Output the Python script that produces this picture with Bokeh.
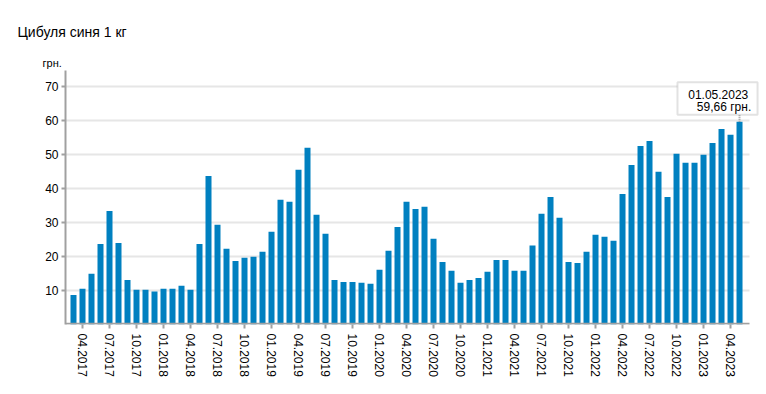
import pandas as pd
from bokeh.plotting import figure
from bokeh.models import ColumnDataSource, FixedTicker, Label, BoxAnnotation, Range1d, Title
from bokeh.embed import file_html
from bokeh.resources import INLINE

# ---- data ----
months = [p.strftime("%m.%Y") for p in pd.period_range("2017-03", "2023-05", freq="M")]
prices = [8.7, 10.5, 14.9, 23.7, 33.4, 24.0, 13.1, 10.2, 10.2, 9.7,
          10.5, 10.5, 11.4, 10.2, 23.7, 43.7, 29.3, 22.3, 18.7, 19.6,
          19.9, 21.4, 27.3, 36.7, 36.1, 45.5, 52.0, 32.3, 26.7, 13.1,
          12.5, 12.5, 12.3, 12.0, 16.1, 21.7, 28.7, 36.1, 34.0, 34.6,
          25.2, 18.4, 15.8, 12.3, 13.1, 13.7, 15.5, 19.0, 19.0, 15.8,
          15.8, 23.2, 32.6, 37.5, 31.4, 18.4, 18.1, 21.4, 26.4, 25.8,
          24.6, 38.4, 46.9, 52.5, 54.0, 44.9, 37.5, 50.2, 47.6, 47.6,
          49.9, 53.4, 57.5, 55.8, 59.66]
tick_labels = ["04.2017", "07.2017", "10.2017", "01.2018", "04.2018", "07.2018",
               "10.2018", "01.2019", "04.2019", "07.2019", "10.2019", "01.2020",
               "04.2020", "07.2020", "10.2020", "01.2021", "04.2021", "07.2021",
               "10.2021", "01.2022", "04.2022", "07.2022", "10.2022", "01.2023",
               "04.2023"]
y_ticks = [10, 20, 30, 40, 50, 60, 70]
title_text = "Цибуля синя 1 кг"
unit_text = "грн."
tip_date = "01.05.2023"
tip_value = "59,66 грн."

FONT = "Liberation Sans"

idx = list(range(len(months)))
src = ColumnDataSource(dict(x=idx, top=prices, m=months))

X0, X1 = -0.889, 76.22
AX_END = 75.11

p = figure(width=766, height=394, output_backend="svg", toolbar_location=None,
           x_range=Range1d(X0, X1), y_range=Range1d(0, 74.7),
           min_border_left=65, min_border_right=7, min_border_top=70,
           min_border_bottom=70)
p.outline_line_color = None
p.background_fill_color = "white"
p.border_fill_color = "white"

# titles (later-added title sits nearer the plot area)
p.title.text = title_text
p.title.text_font = FONT
p.title.text_font_size = "14px"
p.title.text_font_style = "normal"
p.title.text_color = "#000000"
p.title.align = "left"
p.title.offset = -48
p.title.standoff = 26
p.add_layout(Title(text=unit_text, text_font=FONT, text_font_size="11px",
                   text_font_style="normal", text_color="#000000",
                   align="left", offset=-23, standoff=4), "above")

# grid lines (drawn to stop at the axis end)
p.xgrid.grid_line_color = None
p.ygrid.grid_line_color = None
p.segment(x0=[X0] * len(y_ticks), x1=[AX_END] * len(y_ticks), y0=y_ticks, y1=y_ticks,
          line_color="#e6e6e6", line_width=2)

p.vbar(x="x", top="top", width=0.667, bottom=0, source=src,
       fill_color="#0080c0", line_color=None)

# x axis line drawn manually
p.segment(x0=[X0], x1=[AX_END], y0=[0.2], y1=[0.2], line_color="#a0a0a0", line_width=2)

# axes
tick_pos = [months.index(t) for t in tick_labels]
p.xaxis.ticker = FixedTicker(ticks=tick_pos)
p.xaxis.major_label_overrides = {i: t for i, t in zip(tick_pos, tick_labels)}
p.xaxis.major_label_orientation = "vertical"
p.xaxis.axis_line_color = None
p.xaxis.major_tick_line_color = "#a0a0a0"
p.xaxis.major_tick_line_width = 2
p.xaxis.major_tick_out = 4
p.xaxis.major_tick_in = 0
p.xaxis.minor_tick_line_color = None
p.xaxis.major_label_standoff = 5
p.xaxis.major_label_text_font = FONT
p.xaxis.major_label_text_font_size = "12px"
p.xaxis.major_label_text_color = "#000000"

p.yaxis.ticker = FixedTicker(ticks=y_ticks)
p.yaxis.axis_line_color = "#a0a0a0"
p.yaxis.axis_line_width = 2
p.yaxis.major_tick_line_color = "#a0a0a0"
p.yaxis.major_tick_line_width = 2
p.yaxis.major_tick_out = 4
p.yaxis.major_tick_in = 0
p.yaxis.minor_tick_line_color = None
p.yaxis.major_label_standoff = 3
p.yaxis.major_label_text_font = FONT
p.yaxis.major_label_text_font_size = "12px"
p.yaxis.major_label_text_color = "#000000"

# tooltip
last = len(prices) - 1
p.segment(x0=[last], y0=[61.68], x1=[last], y1=[prices[-1]],
          line_color="#999999", line_width=2, line_dash="1 1")
p.add_layout(BoxAnnotation(left=67.11, right=76.0, top=71.26, bottom=61.68,
                           fill_color="white", fill_alpha=1.0,
                           line_color="#a0a0a0", line_width=2, level="overlay"))
p.add_layout(Label(x=68.3, y=67.65, text=tip_date, text_font=FONT,
                   text_font_size="12px", text_color="#000000",
                   text_baseline="alphabetic", text_align="left", level="overlay"))
p.add_layout(Label(x=75.3, y=63.9, text=tip_value, text_font=FONT,
                   text_font_size="12px", text_color="#000000",
                   text_baseline="alphabetic", text_align="right", level="overlay"))

open("out.html", "w").write(file_html(p, INLINE))
